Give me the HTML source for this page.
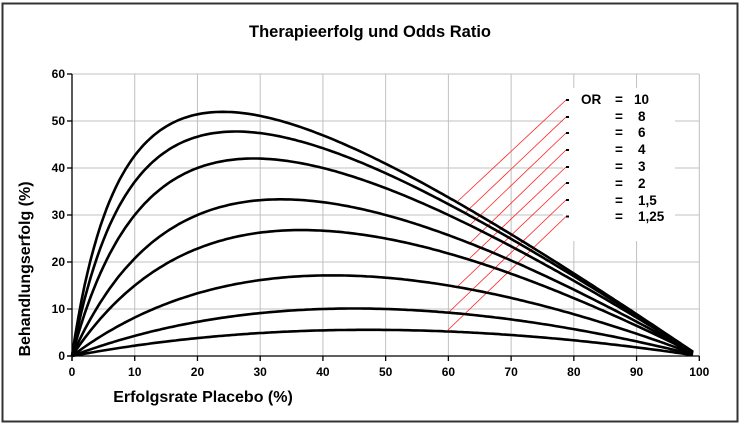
<!DOCTYPE html>
<html><head><meta charset="utf-8"><style>
html,body{margin:0;padding:0;background:#fff;}
svg{display:block;font-family:"Liberation Sans",Arial,sans-serif;}
</style></head><body>
<svg id="s" width="742" height="425" viewBox="0 0 742 425" xmlns="http://www.w3.org/2000/svg">
<rect x="0" y="0" width="742" height="425" fill="#fff"/>
<rect x="2.5" y="3.5" width="735" height="418" fill="#fff" stroke="#333" stroke-width="2"/>
<text x="370" y="37" font-size="16.5" font-weight="bold" text-anchor="middle">Therapieerfolg und Odds Ratio</text>
<g id="grid" stroke="#c0c0c0" stroke-width="1"></g>
<rect x="563" y="88" width="112" height="153" fill="#fff"/>
<g id="red" stroke="#ff2020" stroke-width="0.8"></g>
<g id="curves" fill="none" stroke="#000" stroke-width="2.6" stroke-linejoin="round"></g>
<g id="axes" stroke="#000" stroke-width="1.3"></g>
<g id="labels" font-size="12" font-weight="bold"></g>
<g font-size="13.5" font-weight="bold">
<text x="581" y="104">OR</text>
<text x="615" y="104">=</text><text x="634" y="104">10</text>
<text x="615" y="121">=</text><text x="638" y="121">8</text>
<text x="615" y="137">=</text><text x="638" y="137">6</text>
<text x="615" y="154">=</text><text x="638" y="154">4</text>
<text x="615" y="171">=</text><text x="638" y="171">3</text>
<text x="615" y="188">=</text><text x="638" y="188">2</text>
<text x="615" y="205">=</text><text x="638" y="205">1,5</text>
<text x="615" y="221">=</text><text x="638" y="221">1,25</text>
</g>
<text x="203" y="402" font-size="16" font-weight="bold" text-anchor="middle">Erfolgsrate Placebo (%)</text>
<text transform="translate(30,269) rotate(-90)" font-size="16" font-weight="bold" text-anchor="middle">Behandlungserfolg (%)</text>
</svg>
<script>
var NS="http://www.w3.org/2000/svg";
function el(p,t,a,txt){var e=document.createElementNS(NS,t);for(var k in a)e.setAttribute(k,a[k]);if(txt!==undefined)e.textContent=txt;document.getElementById(p).appendChild(e);}
var X=function(v){return 72+v*6.273;},Y=function(v){return 356-v*4.7;};
for(var i=1;i<=10;i++)el("grid","line",{x1:X(i*10),y1:Y(0),x2:X(i*10),y2:Y(60)});
for(var j=1;j<=6;j++)el("grid","line",{x1:X(0),y1:Y(j*10),x2:X(100),y2:Y(j*10)});
el("axes","line",{x1:X(0),y1:Y(0)+5,x2:X(0),y2:Y(60)});
el("axes","line",{x1:X(0)-5,y1:Y(0),x2:X(100),y2:Y(0)});
for(var i=0;i<=10;i++){el("axes","line",{x1:X(i*10),y1:Y(0),x2:X(i*10),y2:Y(0)+5});el("labels","text",{x:X(i*10),y:376,"text-anchor":"middle"},String(i*10));}
for(var j=0;j<=6;j++){el("axes","line",{x1:X(0)-5,y1:Y(j*10),x2:X(0),y2:Y(j*10)});el("labels","text",{x:65,y:Y(j*10)+4,"text-anchor":"end"},String(j*10));}
var ors=[10,8,6,4,3,2,1.5,1.25];
ors.forEach(function(o){var d="";for(var p=0;p<=99.001;p+=0.5){var q=p/100;var t=o*q/(1-q+o*q);var v=(t-q)*100;d+=(p==0?"M":"L")+X(p).toFixed(1)+","+Y(v).toFixed(1);}el("curves","path",{d:d});});
var ly=[100,117,133,150,167,183,200,216.5];
var st=[[458,201],[465,213],[470,225],[469,244],[470,258],[457,287],[448,313],[448,330]];
for(var k=0;k<8;k++){el("red","line",{x1:st[k][0],y1:st[k][1],x2:566,y2:ly[k]});el("axes","line",{x1:566,y1:ly[k],x2:569,y2:ly[k],"stroke-width":"2"});}
</script>
</body></html>
